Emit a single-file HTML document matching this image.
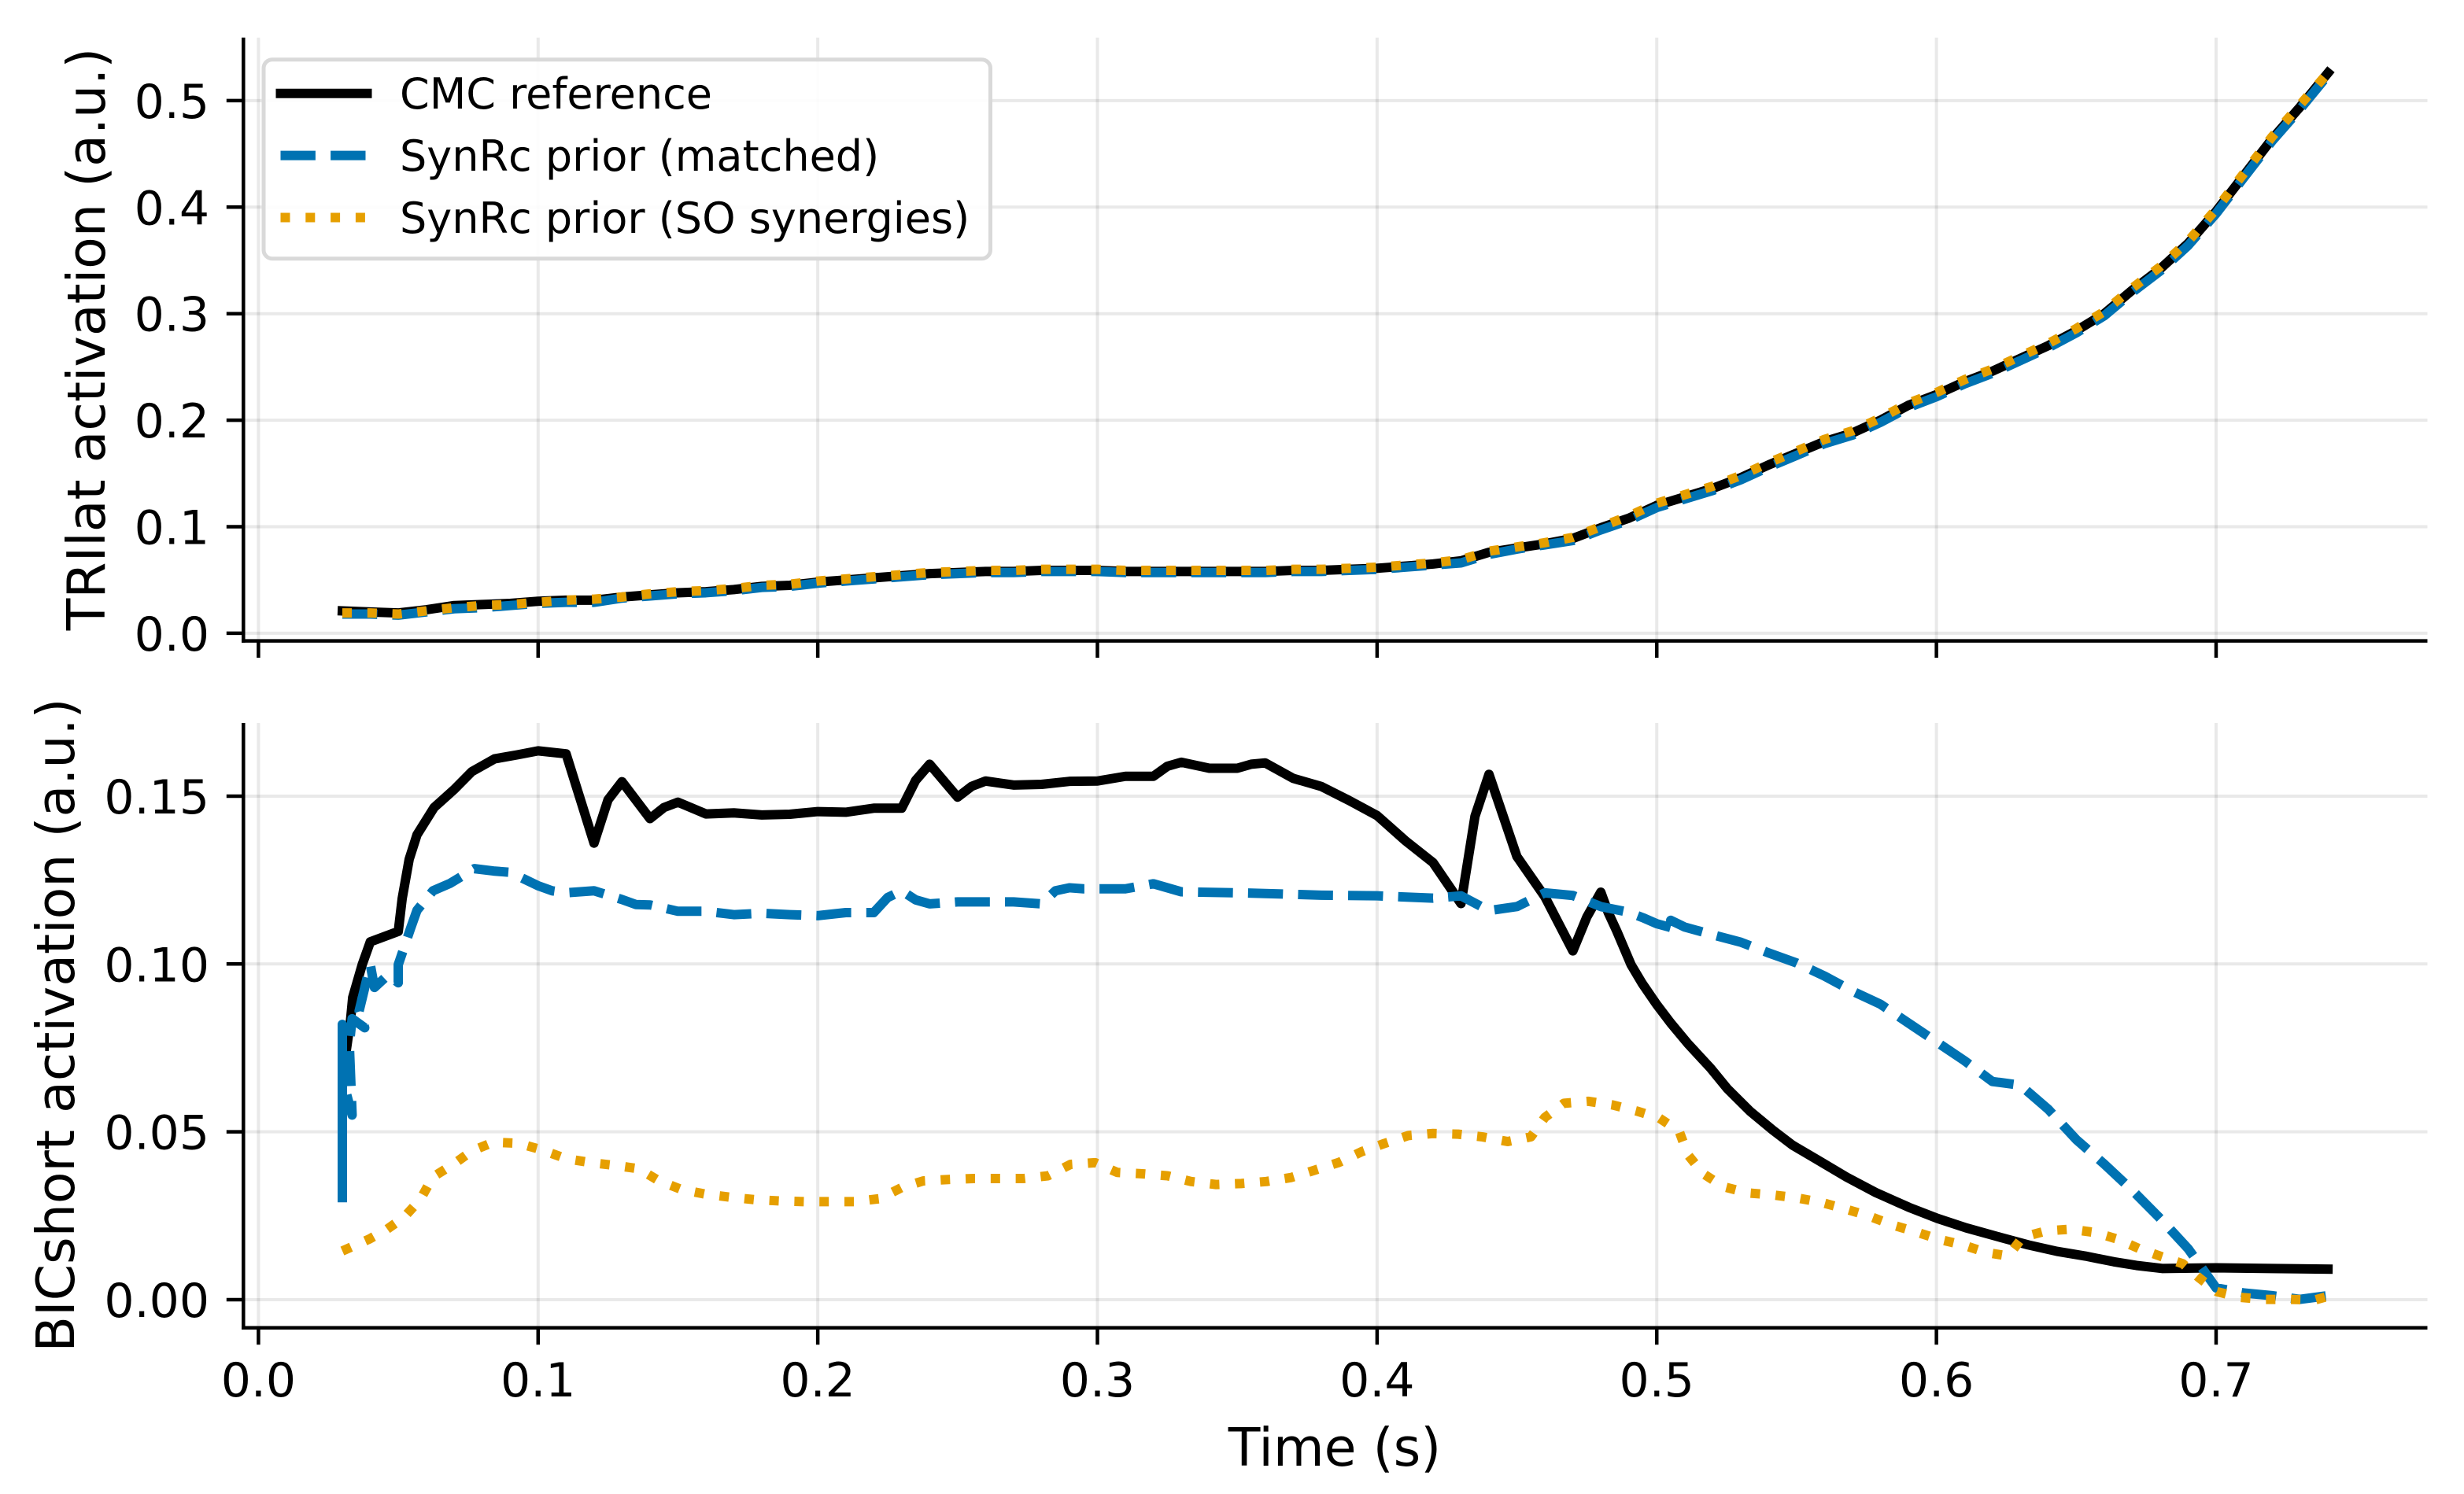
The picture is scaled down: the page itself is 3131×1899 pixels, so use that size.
<!DOCTYPE html>
<html lang="en">
<head>
<meta charset="utf-8">
<title>Activation comparison chart</title>
<style>
  html, body { margin: 0; padding: 0; background: #ffffff; }
  svg { display: block; }
  text { font-family: "DejaVu Sans", "Liberation Sans", sans-serif; fill: #000000; }
</style>
</head>
<body>
<svg id="chart" xmlns="http://www.w3.org/2000/svg" width="3131" height="1899" viewBox="0 0 3131 1899">
  <rect x="0" y="0" width="3131" height="1899" fill="#ffffff"/>
  <g id="top-panel"></g>
  <g id="bottom-panel"></g>
  <g id="legend"></g>
  <text x="1696" y="1863" font-size="66.5" text-anchor="middle">Time (s)</text>
  <text transform="translate(133,431) rotate(-90)" font-size="66.5" text-anchor="middle">TRIlat activation (a.u.)</text>
  <text transform="translate(94,1303) rotate(-90)" font-size="66.5" text-anchor="middle">BICshort activation (a.u.)</text>
</svg>
<script>
// ---- shared axis data ----
const xTicks = [0.0, 0.1, 0.2, 0.3, 0.4, 0.5, 0.6, 0.7];
const xTickLabels = ['0.0', '0.1', '0.2', '0.3', '0.4', '0.5', '0.6', '0.7'];
const topYTicks = [0.0, 0.1, 0.2, 0.3, 0.4, 0.5];
const topYTickLabels = ['0.0', '0.1', '0.2', '0.3', '0.4', '0.5'];
const bottomYTicks = [0.00, 0.05, 0.10, 0.15];
const bottomYTickLabels = ['0.00', '0.05', '0.10', '0.15'];
const legendLabels = ['CMC reference', 'SynRc prior (matched)', 'SynRc prior (SO synergies)'];

// ---- TRIlat panel ----
const topTime = [
  .03,.04,.05,.06,.07,.08,.09,.10,.11,.12,
  .13,.14,.15,.16,.17,.18,.19,.20,.21,.22,
  .23,.24,.25,.26,.27,.28,.29,.30,.31,.32,
  .33,.34,.35,.36,.37,.38,.39,.40,.41,.42,
  .43,.44,.45,.46,.47,.48,.49,.50,.51,.52,
  .53,.54,.55,.56,.57,.58,.59,.60,.61,.62,
  .63,.64,.65,.66,.67,.68,.69,.70,.71,.72,
  .73,.74];
const topCmc = [
  .021,.020,.019,.022,.026,.027,.028,.030,.031,.031,
  .034,.036,.038,.039,.041,.044,.045,.048,.050,.052,
  .054,.056,.057,.058,.058,.059,.059,.059,.058,.058,
  .058,.058,.058,.058,.059,.059,.060,.061,.063,.065,
  .068,.076,.080,.084,.089,.099,.108,.120,.128,.136,
  .146,.158,.169,.180,.188,.200,.214,.224,.236,.246,
  .258,.270,.284,.300,.322,.342,.366,.396,.430,.464,
  .494,.526];
const topMatched = [
  .018,.018,.017,.020,.023,.024,.026,.028,.029,.029,
  .033,.035,.037,.038,.040,.043,.044,.047,.049,.051,
  .053,.055,.056,.057,.057,.058,.058,.058,.057,.057,
  .057,.057,.057,.057,.058,.058,.059,.060,.062,.064,
  .066,.074,.079,.083,.087,.097,.106,.118,.126,.134,
  .144,.156,.167,.178,.186,.198,.212,.222,.234,.244,
  .256,.268,.282,.298,.320,.340,.364,.394,.428,.462,
  .492,.524];
const topSo = [
  .019,.019,.018,.021,.024,.026,.027,.029,.031,.032,
  .034,.037,.039,.040,.042,.045,.046,.049,.051,.053,
  .055,.057,.058,.059,.059,.060,.060,.060,.059,.059,
  .059,.059,.059,.059,.060,.060,.061,.062,.064,.066,
  .069,.077,.081,.085,.090,.100,.110,.122,.130,.138,
  .148,.160,.171,.182,.190,.202,.216,.226,.238,.248,
  .260,.272,.286,.302,.324,.344,.368,.398,.432,.466,
  .496,.526];

// ---- BICshort panel ----
const bottomCmcTime = [
  .03,.03,.0329,.0337,.0371,.04,.05,.0514,.0539,.0567,.0628,.07,.0763,.0844,.0925,.10,.11,.12,.125,.13,.14,
  .145,.15,.16,.17,.18,.19,.20,.21,.22,.23,.235,.24,.25,.255,.26,.27,.28,.29,.30,.31,
  .32,.325,.33,.34,.35,.355,.36,.37,.38,.39,.40,.41,.42,.43,.435,.44,.45,.46,.47,.475,
  .48,.4826,.4857,.4908,.4948,.4999,.505,.5111,.5192,.5253,.5334,.5415,.5486,.5578,.5679,.5781,.5902,.6004,.6106,.6227,
  .6329,.6431,.6532,.6634,.6715,.6807,.70,.72,.74];
const bottomCmc = [
  .045,.066,.083,.090,.0998,.1066,.1097,.1195,.1312,.1385,.1466,.152,.1573,.1611,.1623,.1635,.1626,.136,.1489,.1543,.1433,
  .1466,.1482,.1447,.145,.1444,.1446,.1454,.1452,.1464,.1464,.1547,.1595,.1497,.1529,.1545,.1533,.1535,.1544,.1545,.1559,
  .1559,.1589,.1601,.1583,.1583,.1595,.1599,.1553,.1529,.1487,.1442,.1368,.1302,.118,.144,.1565,.132,.12,.1039,.114,
  .1214,.1154,.1098,.0998,.0942,.088,.0824,.0763,.069,.0628,.0561,.0505,.046,.0415,.0365,.032,.0275,.0242,.0214,.0186,
  .0163,.0144,.013,.0113,.0102,.0093,.0095,.0093,.0091];

const bottomMatchedTime = [
  .03,.03,.03,.03,.0335,.0325,.0335,.038,.036,.04,.0415,.0464,.05,.05,.0544,.0567,.0624,.0685,.0772,.084,.09,
  .095,.10,.105,.11,.12,.13,.135,.14,.15,.16,.17,.18,.19,.20,.21,.22,.225,.23,.235,.24,
  .25,.26,.27,.28,.285,.29,.295,.30,.31,.32,.33,.35,.36,.38,.40,.42,.43,.44,.45,.46,
  .47,.48,.49,.495,.50,.507,.505,.51,.52,.53,.54,.55,.56,.57,.58,.59,.60,.61,.62,.63,
  .64,.65,.66,.67,.68,.69,.70,.71,.72,.73,.74];
const bottomMatched = [
  .029,.082,.036,.066,.055,.076,.0837,.081,.086,.0998,.093,.0968,.0944,.0998,.1106,.116,.1218,.124,.1284,.1277,.1273,
  .1253,.1233,.1218,.1212,.1218,.1192,.1177,.1176,.1157,.1157,.1147,.1151,.1147,.1144,.1153,.1153,.1198,.1218,.1191,.1179,
  .1185,.1185,.1185,.1179,.1218,.1227,.1224,.1224,.1224,.1239,.1215,.1212,.121,.1205,.1203,.1196,.1203,.1159,.1171,.1212,
  .1204,.1171,.1154,.1138,.112,.1104,.113,.111,.1087,.1065,.1033,.1003,.0964,.0919,.088,.0824,.0768,.0712,.065,.0639,
  .0567,.0477,.0404,.0326,.0242,.0152,.0035,.002,.0012,.0001,.0012];

const bottomSoTime = [
  .03,.0395,.046,.052,.058,.0623,.07,.0763,.084,.093,.1014,.11,.119,.1275,.136,.143,.151,.16,.169,.1774,
  .1867,.1954,.2044,.2134,.2222,.23,.2378,.2467,.2557,.2647,.2737,.2823,.2904,.2992,.3071,.3161,.3251,.3335,.3424,.3514,
  .3604,.3693,.3774,.3864,.3945,.4025,.4112,.42,.429,.4377,.4467,.455,.46,.4668,.4755,.4843,.4932,.5009,.508,.5111,
  .5165,.5237,.5325,.5415,.5503,.5592,.5675,.5756,.5841,.5923,.6008,.6095,.6176,.6257,.6308,.6393,.648,.6568,.6649,.6725,
  .6806,.6881,.6938,.7003,.7084,.7171,.7262,.7353,.74];
const bottomSo = [
  .0145,.018,.021,.0245,.03,.0365,.0405,.0443,.0469,.0466,.0446,.042,.0408,.04,.039,.0355,.0329,.0314,.0305,.0298,
  .0294,.0292,.0292,.0292,.0301,.0334,.0354,.0358,.0361,.0361,.0361,.0369,.0403,.0408,.0379,.0375,.0369,.0352,.0343,.0346,
  .0352,.0364,.0385,.0409,.0441,.0465,.0489,.0495,.0493,.0485,.0471,.0485,.0543,.0585,.0591,.058,.0561,.0541,.0502,.0432,
  .0376,.0337,.0318,.0312,.0303,.0289,.027,.025,.0223,.0203,.018,.0163,.0141,.013,.0186,.0205,.021,.02,.018,.0152,
  .0128,.0107,.0066,.0024,.0007,.0001,.0001,-.0001,.001];

// ---- scales ----
const SVG_NS = 'http://www.w3.org/2000/svg';
const axisLeft = 309.3, axisRight = 3084.5;
const xScale = function (t) { return 328.4 + 3553.7 * t; };
const yTopScale = function (v) { return 804.9 - 1354 * v; };
const yBottomScale = function (v) { return 1652 - 4267 * v; };

const GRID = 'rgba(0,0,0,0.085)';
const BLACK = '#000000', BLUE = '#0072b2', ORANGE = '#e69f00';
const LW = 12, SPINE = 4.5;
const DASH = (3.7 * LW) + ' ' + (1.6 * LW);
const DOT = (1 * LW) + ' ' + (1.65 * LW);

function svgLine(parent, name, x1, y1, x2, y2, color, width) {
  const el = document.createElementNS(SVG_NS, 'line');
  
  
  el.setAttribute('x1', x1);
  el.setAttribute('y1', y1);
  el.setAttribute('x2', x2);
  el.setAttribute('y2', y2);
  el.setAttribute('stroke', color);
  el.setAttribute('stroke-width', width);
  parent.appendChild(el);
  return el;
}

function svgText(parent, name, x, y, str, size, anchor) {
  const el = document.createElementNS(SVG_NS, 'text');
  
  
  el.setAttribute('x', x);
  el.setAttribute('y', y);
  el.setAttribute('font-size', size);
  el.setAttribute('text-anchor', anchor);
  el.textContent = str;
  parent.appendChild(el);
  return el;
}

function seriesPath(parent, name, ts, vs, yScale, color, dash, cap) {
  const el = document.createElementNS(SVG_NS, 'path');
  const d = ts.map(function (t, i) {
    return (i === 0 ? 'M' : 'L') + xScale(t).toFixed(2) + ' ' + yScale(vs[i]).toFixed(2);
  }).join(' ');
  
  
  el.setAttribute('d', d);
  el.setAttribute('fill', 'none');
  el.setAttribute('stroke', color);
  el.setAttribute('stroke-width', LW);
  el.setAttribute('stroke-linejoin', 'round');
  el.setAttribute('stroke-linecap', cap);
  if (dash) { el.setAttribute('stroke-dasharray', dash); }
  parent.appendChild(el);
  return el;
}

function drawAxes(parent, prefix, top, bottom, yTicks, yScale) {
  xTicks.forEach(function (t) {
    svgLine(parent, prefix + '-x-grid-line', xScale(t), top, xScale(t), bottom, GRID, 4);
  });
  yTicks.forEach(function (v) {
    svgLine(parent, prefix + '-y-grid-line', axisLeft, yScale(v), axisRight, yScale(v), GRID, 4);
  });
}

function drawFrame(parent, prefix, top, bottom, yTicks, yLabels, yScale, showXLabels) {
  svgLine(parent, prefix + '-left-spine', axisLeft, top, axisLeft, bottom + SPINE / 2, BLACK, SPINE);
  svgLine(parent, prefix + '-bottom-spine', axisLeft - SPINE / 2, bottom, axisRight, bottom, BLACK, SPINE);
  xTicks.forEach(function (t, i) {
    svgLine(parent, prefix + '-x-tick', xScale(t), bottom, xScale(t), bottom + 21.5, BLACK, SPINE);
    if (showXLabels) {
      svgText(parent, prefix + '-x-tick-label', xScale(t), 1775, xTickLabels[i], 60, 'middle');
    }
  });
  yTicks.forEach(function (v, i) {
    svgLine(parent, prefix + '-y-tick', axisLeft, yScale(v), axisLeft - 21.5, yScale(v), BLACK, SPINE);
    svgText(parent, prefix + '-y-tick-label', 266, yScale(v) + 22, yLabels[i], 60, 'end');
  });
}

// ---- top panel ----
const topPanel = document.getElementById('top-panel');
drawAxes(topPanel, 'top', 47.7, 814.6, topYTicks, yTopScale);
seriesPath(topPanel, 'top-cmc-reference-line', topTime, topCmc, yTopScale, BLACK, null, 'square');
seriesPath(topPanel, 'top-synrc-matched-line', topTime, topMatched, yTopScale, BLUE, DASH, 'butt');
seriesPath(topPanel, 'top-synrc-so-line', topTime, topSo, yTopScale, ORANGE, DOT, 'butt');
drawFrame(topPanel, 'top', 47.7, 814.6, topYTicks, topYTickLabels, yTopScale, false);

// ---- bottom panel ----
const bottomPanel = document.getElementById('bottom-panel');
drawAxes(bottomPanel, 'bottom', 919, 1687.7, bottomYTicks, yBottomScale);
seriesPath(bottomPanel, 'bottom-cmc-reference-line', bottomCmcTime, bottomCmc, yBottomScale, BLACK, null, 'square');
seriesPath(bottomPanel, 'bottom-synrc-matched-line', bottomMatchedTime, bottomMatched, yBottomScale, BLUE, DASH, 'butt');
seriesPath(bottomPanel, 'bottom-synrc-so-line', bottomSoTime, bottomSo, yBottomScale, ORANGE, DOT, 'butt');
drawFrame(bottomPanel, 'bottom', 919, 1687.7, bottomYTicks, bottomYTickLabels, yBottomScale, true);

// ---- legend ----
const legend = document.getElementById('legend');
const legendBox = document.createElementNS(SVG_NS, 'rect');


legendBox.setAttribute('x', 335);
legendBox.setAttribute('y', 75.7);
legendBox.setAttribute('width', 923.5);
legendBox.setAttribute('height', 253);
legendBox.setAttribute('rx', 11);
legendBox.setAttribute('ry', 11);
legendBox.setAttribute('fill', 'rgba(255,255,255,0.9)');
legendBox.setAttribute('stroke', '#d9d9d9');
legendBox.setAttribute('stroke-width', 5);
legend.appendChild(legendBox);

const legendColors = [BLACK, BLUE, ORANGE];
const legendDashes = [null, DASH, DOT];
const legendCaps = ['square', 'butt', 'butt'];
const legendNames = ['legend-entry-cmc', 'legend-entry-matched', 'legend-entry-so'];
legendLabels.forEach(function (label, i) {
  const rowY = 118.7 + i * 78.9;
  const handle = svgLine(legend, legendNames[i] + '-handle', 356.5, rowY, 466.5, rowY, legendColors[i], LW);
  handle.setAttribute('stroke-linecap', legendCaps[i]);
  if (legendDashes[i]) { handle.setAttribute('stroke-dasharray', legendDashes[i]); }
  svgText(legend, legendNames[i] + '-label', 508, rowY + 19.5, label, 54, 'start');
});
</script>
</body>
</html>
